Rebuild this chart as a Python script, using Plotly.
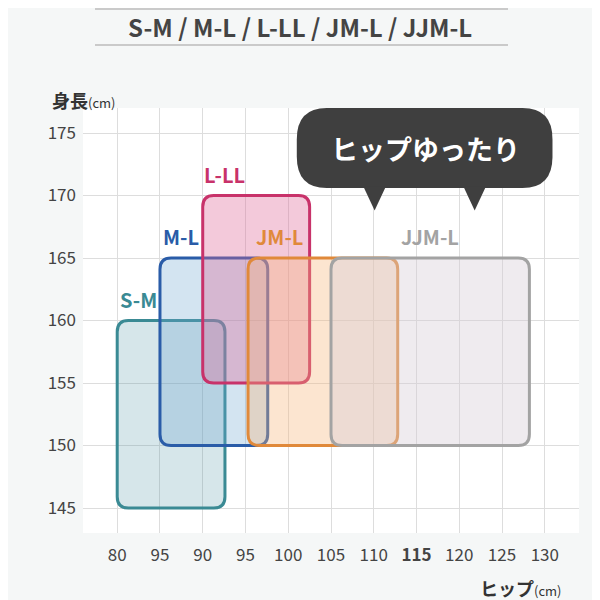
import plotly.graph_objects as go

sizes = ["S-M", "M-L", "L-LL", "JM-L", "JJM-L"]
hip_min = [80, 85, 90, 95.3, 105]
hip_max = [92.6, 97.6, 102.5, 112.8, 128.2]
h_min = [145, 150, 155, 150, 150]
h_max = [160, 165, 170, 165, 165]
line_c = ["#3a8a94", "#2a5ca8", "#c8326a", "#e0893a", "#a3a3a3"]
fill_c = ["rgba(70,140,160,0.22)", "rgba(110,165,210,0.30)", "rgba(220,100,150,0.35)",
          "rgba(245,180,120,0.35)", "rgba(215,205,215,0.40)"]
x_ticks = [80, 85, 90, 95, 100, 105, 110, 115, 120, 125, 130]
x_labels = ["80", "95", "90", "95", "100", "105", "110", "<b>115</b>", "120", "125", "130"]
y_ticks = [145, 150, 155, 160, 165, 170, 175]

def rrect(x0, x1, y0, y1, rx=1.3, ry=0.9):
    return (f"M{x0+rx},{y0} L{x1-rx},{y0} Q{x1},{y0} {x1},{y0+ry} L{x1},{y1-ry} Q{x1},{y1} {x1-rx},{y1} "
            f"L{x0+rx},{y1} Q{x0},{y1} {x0},{y1-ry} L{x0},{y0+ry} Q{x0},{y0} {x0+rx},{y0} Z")

L, T, W, H = 75, 100, 496, 425

fig = go.Figure()
fig.add_trace(go.Scatter(x=[80, 130], y=[145, 175], mode="markers", marker=dict(opacity=0), hoverinfo="skip"))
shapes, ann = [], []
label_x = [82.5, 87.5, 92.5, 96, 113]
label_anchor = ["center", "center", "center", "left", "left"]
for i, s in enumerate(sizes):
    shapes.append(dict(type="path", path=rrect(hip_min[i], hip_max[i], h_min[i], h_max[i]),
                       xref="x", yref="y", line=dict(color=line_c[i], width=3), fillcolor=fill_c[i]))
    ann.append(dict(x=label_x[i], y=h_max[i] + 0.4, xref="x", yref="y",
                    text=f"<b>{s}</b>", showarrow=False, xanchor=label_anchor[i],
                    yanchor="bottom", font=dict(color=line_c[i], size=20, family="Noto Sans CJK JP")))
# callout
shapes.append(dict(type="path", path=rrect(101.0, 130.9, 170.6, 177, 3.5, 2.5), xref="x", yref="y",
                   line=dict(width=0), fillcolor="#3f3f3f"))
for tx in [110.1, 121.8]:
    shapes.append(dict(type="path", path=f"M{tx-1.3},170.7 L{tx+1.3},170.7 L{tx},168.8 Z",
                       xref="x", yref="y", line=dict(width=0), fillcolor="#3f3f3f"))
ann.append(dict(x=116, y=173.8, xref="x", yref="y", text="<b>ヒップゆったり</b>", showarrow=False,
                font=dict(color="white", size=27, family="Noto Sans CJK JP")))
ann.append(dict(x=(300 - 8 - L) / W, y=1 + (T - 19) / H, xref="paper", yref="paper", yanchor="middle",
                text="<b>S-M / M-L / L-LL / JM-L / JJM-L</b>", showarrow=False,
                font=dict(size=24, color="#444", family="Noto Sans CJK JP")))
ann.append(dict(x=(42 - L) / W, y=1 + (T - 92) / H, xref="paper", yref="paper", xanchor="left", yanchor="middle",
                text="<b>身長</b><span style='font-size:13px'>(cm)</span>", showarrow=False,
                font=dict(size=18, color="#333", family="Noto Sans CJK JP")))
ann.append(dict(x=(555 - L) / W, y=-(580 - T - H) / H, xref="paper", yref="paper", xanchor="right", yanchor="middle",
                text="<b>ヒップ</b><span style='font-size:13px'>(cm)</span>", showarrow=False,
                font=dict(size=18, color="#333", family="Noto Sans CJK JP")))
for yy in [1, 37]:
    shapes.append(dict(type="line", xref="paper", yref="paper", x0=(87 - L) / W, x1=(500 - L) / W,
                       y0=1 + (T - yy) / H, y1=1 + (T - yy) / H, line=dict(color="#bbb", width=1.5)))

fig.update_layout(width=600, height=600, margin=dict(l=L, r=600 - L - W, t=T, b=600 - T - H),
                  paper_bgcolor="#f5f7f7", plot_bgcolor="white", showlegend=False,
                  shapes=shapes, annotations=ann,
                  font=dict(family="Noto Sans CJK JP", color="#444", size=17))
fig.update_xaxes(range=[76, 134], tickvals=x_ticks, ticktext=x_labels, showgrid=True, gridcolor="#dddddd",
                 zeroline=False, ticks="", ticklabelstandoff=10, fixedrange=True)
fig.update_yaxes(range=[143, 177], tickvals=y_ticks, showgrid=True, gridcolor="#dddddd",
                 zeroline=False, ticks="", ticklabelstandoff=6, fixedrange=True)
fig.write_html("out.html")
